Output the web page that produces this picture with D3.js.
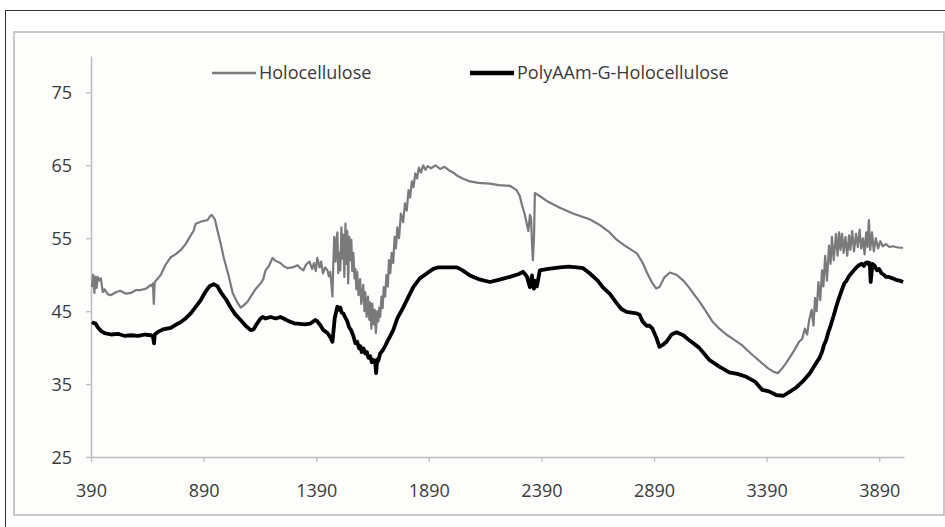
<!DOCTYPE html>
<html><head><meta charset="utf-8">
<script src="https://cdn.jsdelivr.net/npm/d3@7"></script>
<style>body{margin:0;background:#fff}svg{display:block}text{font-family:"Open Sans",sans-serif}</style>
</head><body><svg id="c" width="945" height="527"></svg>
<script>
const xTicks = [390, 890, 1390, 1890, 2390, 2890, 3390, 3890];
const yTicks = [25, 35, 45, 55, 65, 75];
const seriesNames = ["Holocellulose", "PolyAAm-G-Holocellulose"];

// [wavenumber, value]
const holocellulose = [
[394,48.3],[400,50.0],[405,47.5],[410,49.7],[415,48.2],[420,49.7],[428,49.2],[434,49.5],[442,47.6],[450,48.0],
[465,47.3],[479,47.2],[500,47.6],[520,47.8],[545,47.4],[567,47.5],[590,47.9],[610,47.9],[635,48.1],[656,48.6],
[661,48.4],[665,48.8],[669,46.0],[673,49.0],[685,49.4],[700,50.0],[720,51.3],[744,52.4],[765,52.8],[789,53.4],
[810,54.2],[833,55.4],[845,56.0],[855,57.0],[880,57.3],[908,57.5],[918,58.0],[926,58.2],[940,57.6],[952,56.0],
[965,54.4],[979,52.4],[1000,50.0],[1019,47.5],[1040,46.2],[1054,45.5],[1068,45.8],[1085,46.3],[1099,47.0],[1120,48.0],
[1143,48.8],[1155,49.4],[1165,50.6],[1180,51.2],[1196,52.3],[1210,51.9],[1231,51.6],[1245,51.2],[1262,50.9],[1285,51.0],
[1307,51.3],[1320,50.9],[1333,50.6],[1345,51.4],[1360,51.8],[1372,50.8],[1380,51.6],[1388,50.5],[1395,52.3],[1405,51.0],
[1412,51.8],[1420,50.2],[1430,51.0],[1440,50.6],[1446,49.8],[1452,50.4],[1458,48.6],[1462,47.0],[1466,51.5],[1470,55.2],
[1476,51.8],[1480,54.8],[1484,55.8],[1488,50.2],[1492,53.0],[1497,50.6],[1502,56.5],[1506,52.2],[1510,55.5],[1515,49.7],
[1520,57.0],[1524,51.5],[1528,56.0],[1532,48.8],[1537,55.2],[1541,52.0],[1546,54.8],[1550,50.5],[1555,53.0],[1560,49.5],
[1564,50.8],[1568,48.0],[1572,50.4],[1578,47.2],[1585,49.4],[1590,46.0],[1599,48.6],[1604,45.0],[1608,47.6],[1614,44.2],
[1620,47.0],[1626,43.8],[1630,46.2],[1635,42.6],[1639,46.0],[1645,43.2],[1650,45.2],[1655,42.0],[1661,45.0],[1666,43.6],
[1670,45.5],[1674,44.2],[1680,47.0],[1685,45.4],[1690,48.3],[1696,47.0],[1702,50.0],[1708,48.4],[1713,52.0],[1719,50.2],
[1725,53.0],[1732,51.6],[1738,55.2],[1744,53.6],[1750,56.5],[1758,55.0],[1766,58.4],[1776,57.2],[1784,59.8],[1792,58.8],
[1800,61.6],[1807,60.6],[1815,62.8],[1822,62.0],[1830,63.9],[1838,63.2],[1846,64.7],[1855,64.0],[1865,65.0],[1875,64.4],
[1885,64.9],[1900,64.6],[1920,65.0],[1940,64.5],[1960,64.8],[1980,64.3],[2000,64.0],[2015,63.6],[2040,63.2],[2073,62.8],
[2110,62.6],[2161,62.5],[2200,62.3],[2250,62.2],[2280,61.6],[2294,60.8],[2305,59.4],[2315,58.4],[2325,57.0],[2332,56.0],
[2339,58.2],[2344,57.7],[2348,54.5],[2352,52.0],[2357,55.0],[2361,61.2],[2372,61.0],[2420,60.0],[2472,59.2],[2530,58.4],
[2604,57.6],[2650,56.8],[2693,55.8],[2724,54.8],[2760,54.0],[2790,53.4],[2815,52.9],[2840,51.6],[2860,50.2],[2880,49.0],
[2900,48.1],[2914,48.3],[2935,49.6],[2960,50.3],[2990,50.0],[3020,49.2],[3047,48.2],[3070,47.2],[3092,46.3],[3120,45.0],
[3149,43.6],[3180,42.6],[3211,41.8],[3250,41.0],[3282,40.3],[3320,39.2],[3357,38.2],[3395,37.2],[3420,36.7],[3440,36.5],
[3460,37.2],[3477,37.9],[3500,39.0],[3520,40.0],[3534,40.8],[3548,41.2],[3560,42.6],[3570,41.8],[3579,43.8],[3590,45.2],
[3598,43.0],[3605,46.8],[3612,45.0],[3620,49.0],[3628,46.5],[3636,50.6],[3642,48.4],[3650,52.6],[3658,49.2],[3667,54.0],
[3674,51.5],[3680,55.2],[3688,52.0],[3698,55.6],[3705,52.6],[3712,55.8],[3718,53.4],[3725,55.6],[3732,53.0],[3740,55.2],
[3748,52.6],[3756,55.4],[3762,53.4],[3770,56.0],[3778,53.2],[3787,55.6],[3795,53.8],[3803,56.2],[3810,53.6],[3818,55.0],
[3825,52.8],[3832,55.8],[3838,53.8],[3844,57.5],[3850,53.4],[3858,55.8],[3866,53.2],[3875,55.0],[3885,53.6],[3895,54.6],
[3905,53.9],[3920,54.2],[3935,53.8],[3950,53.9],[3964,53.8],[3980,53.7],[3996,53.7]
];

const polyAAm = [
[394,43.5],[400,43.4],[410,43.3],[420,42.8],[434,42.3],[450,42.0],[479,41.8],[510,41.9],[540,41.6],[567,41.7],
[600,41.6],[630,41.8],[656,41.7],[665,41.5],[670,40.6],[673,41.8],[690,42.2],[710,42.5],[744,42.7],[770,43.2],
[789,43.5],[810,44.0],[833,44.7],[855,45.6],[877,46.5],[895,47.5],[908,48.1],[920,48.5],[935,48.7],[952,48.4],
[966,47.6],[990,46.6],[1010,45.5],[1030,44.6],[1054,43.8],[1080,42.9],[1099,42.4],[1112,42.5],[1125,43.2],[1143,44.0],
[1152,44.2],[1165,44.0],[1187,44.2],[1210,44.0],[1231,44.2],[1245,44.0],[1270,43.6],[1295,43.3],[1307,43.3],[1340,43.2],
[1364,43.3],[1386,43.8],[1395,43.6],[1410,43.0],[1422,42.4],[1440,42.0],[1453,41.4],[1462,40.8],[1466,42.0],[1472,44.0],
[1480,45.1],[1484,45.6],[1492,45.2],[1497,45.5],[1503,44.8],[1510,44.7],[1518,44.2],[1528,43.6],[1536,42.8],[1545,42.4],
[1555,41.6],[1564,40.6],[1572,40.8],[1580,39.9],[1586,40.2],[1592,39.4],[1600,39.9],[1608,39.2],[1615,39.4],[1622,38.6],
[1630,38.8],[1637,38.0],[1645,38.3],[1652,38.0],[1656,36.5],[1661,38.4],[1666,38.2],[1674,39.2],[1685,39.6],[1696,40.2],
[1708,41.0],[1719,41.6],[1732,42.4],[1750,44.0],[1776,45.5],[1800,47.0],[1821,48.3],[1850,49.5],[1882,50.2],[1910,50.8],
[1930,51.0],[1953,51.0],[1985,51.0],[2015,51.0],[2040,50.6],[2073,49.9],[2110,49.4],[2161,49.0],[2200,49.3],[2250,49.7],
[2290,50.1],[2308,50.4],[2325,49.8],[2339,48.3],[2348,49.9],[2352,48.6],[2357,48.1],[2361,49.2],[2370,48.4],[2383,50.6],
[2420,50.8],[2472,51.0],[2510,51.1],[2547,51.0],[2575,50.9],[2604,50.2],[2640,49.2],[2662,48.3],[2693,47.4],[2724,46.1],
[2745,45.3],[2768,44.9],[2790,44.8],[2812,44.7],[2826,44.5],[2839,43.6],[2857,43.0],[2870,43.0],[2883,42.6],[2900,41.4],
[2914,40.1],[2930,40.4],[2945,40.8],[2968,41.8],[2990,42.1],[3020,41.7],[3047,41.0],[3090,40.0],[3136,38.3],[3180,37.4],
[3224,36.6],[3260,36.4],[3300,36.0],[3340,35.3],[3371,34.2],[3400,34.0],[3433,33.5],[3465,33.4],[3490,33.9],[3520,34.5],
[3548,35.3],[3580,36.4],[3610,37.9],[3625,38.6],[3636,39.4],[3645,40.4],[3654,41.0],[3665,42.2],[3676,43.2],[3688,44.4],
[3698,45.5],[3708,46.5],[3716,47.2],[3725,48.0],[3735,48.8],[3745,49.2],[3756,49.8],[3769,50.3],[3780,50.7],[3792,51.1],
[3800,51.3],[3813,51.5],[3822,51.2],[3830,51.6],[3838,51.7],[3844,51.4],[3848,51.6],[3852,49.0],[3860,51.5],[3870,51.2],
[3880,50.6],[3889,50.8],[3900,50.2],[3910,50.0],[3920,49.7],[3933,49.7],[3950,49.5],[3964,49.3],[3980,49.2],[3996,49.0]
];

const svg = d3.select("#c");
svg.append("rect").attr("x",5.5).attr("y",10.5).attr("width",960).attr("height",540)
  .attr("fill","#fff").attr("stroke","#333").attr("stroke-width",1);
svg.append("rect").attr("x",14).attr("y",32).attr("width",930).attr("height",483)
  .attr("fill","#fdfdfb").attr("stroke","#c4c4c4").attr("stroke-width",1.8);

const x = d3.scaleLinear().domain([390, 4000]).range([91, 904]);
const y = d3.scaleLinear().domain([25, 80]).range([457, 56]);

const yAxis = svg.append("g").attr("transform","translate(91,0)")
  .call(d3.axisLeft(y).tickValues(yTicks).tickSize(5).tickSizeOuter(0).tickPadding(14).tickFormat(d3.format("d")));
const xAxis = svg.append("g").attr("transform","translate(0,457)")
  .call(d3.axisBottom(x).tickValues(xTicks).tickSize(5).tickSizeOuter(0).tickFormat(d3.format("d")));
[yAxis,xAxis].forEach(a=>{
  a.select(".domain").attr("stroke","#bdbdbd").attr("stroke-width",1.5);
  a.selectAll(".tick line").attr("stroke","#bdbdbd").attr("stroke-width",1.3);
  a.selectAll(".tick text").attr("fill","#3a3a3a").style("font-size","18px")
   .style("font-family","'Open Sans',sans-serif");
});
yAxis.selectAll(".tick text").attr("dy","0.36em");
xAxis.selectAll(".tick text").attr("y",34).attr("dy","0.36em");

const line = d3.line().x(d=>x(d[0])).y(d=>y(d[1]));

svg.append("path").datum(holocellulose).attr("d",line).attr("fill","none")
  .attr("stroke","#7a7a7a").attr("stroke-width",2.2).attr("stroke-linejoin","round");
svg.append("path").datum(polyAAm).attr("d",line).attr("fill","none")
  .attr("stroke","#000").attr("stroke-width",3.8).attr("stroke-linejoin","round");

const leg = [{name:seriesNames[0], x1:212, color:"#7a7a7a", w:2.5},
             {name:seriesNames[1], x1:470, color:"#000", w:4.5}];
leg.forEach(l=>{
  svg.append("line").attr("x1",l.x1).attr("x2",l.x1+44).attr("y1",73).attr("y2",73)
    .attr("stroke",l.color).attr("stroke-width",l.w);
  svg.append("text").attr("x",l.x1+47).attr("y",73).attr("dy","0.36em")
    .attr("fill","#3a3a3a").style("font-size","18px").text(l.name);
});
</script></body></html>
